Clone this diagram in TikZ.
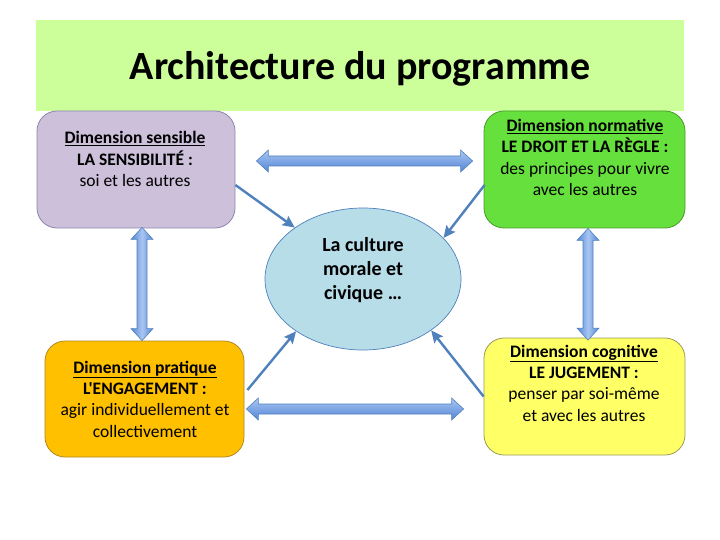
\documentclass[tikz,border=0pt]{standalone}
\usepackage{fontspec}
\setmainfont{Carlito}[Ligatures=TeXOff]
\usetikzlibrary{calc,arrows.meta,shapes.geometric}
\definecolor{titlegreen}{HTML}{CCFF99}
\definecolor{lav}{HTML}{CCC0DA}
\definecolor{lavborder}{HTML}{8C86AF}
\definecolor{normgreen}{HTML}{66E03C}
\definecolor{normborder}{HTML}{4A9A2E}
\definecolor{orangefill}{HTML}{FFC000}
\definecolor{orangeborder}{HTML}{B08A20}
\definecolor{yellowfill}{HTML}{FFFF66}
\definecolor{yellowborder}{HTML}{9A9A5A}
\definecolor{ellfill}{HTML}{B7DDE8}
\definecolor{blueline}{HTML}{4F81BD}
\definecolor{arrlight}{HTML}{A9C6F2}
\definecolor{arrdark}{HTML}{5486D6}
\newcommand{\dblH}[2]{\path[blockarrow,top color=arrlight,bottom color=arrdark]
  let \p1=(#1), \p2=(#2) in (\x1,\y1) -- (\x1+12pt,\y1+11pt) -- (\x1+12pt,\y1+5pt)
  -- (\x2-12pt,\y1+5pt) -- (\x2-12pt,\y1+11pt) -- (\x2,\y1) -- (\x2-12pt,\y1-11pt)
  -- (\x2-12pt,\y1-5pt) -- (\x1+12pt,\y1-5pt) -- (\x1+12pt,\y1-11pt) -- cycle;}
\newcommand{\dblV}[2]{\path[blockarrow,left color=arrdark,right color=arrdark,middle color=arrlight]
  let \p1=(#1), \p2=(#2) in (\x1,\y1) -- (\x1+11pt,\y1-12pt) -- (\x1+5pt,\y1-12pt)
  -- (\x1+5pt,\y2+12pt) -- (\x1+11pt,\y2+12pt) -- (\x1,\y2) -- (\x1-11pt,\y2+12pt)
  -- (\x1-5pt,\y2+12pt) -- (\x1-5pt,\y1-12pt) -- (\x1-11pt,\y1-12pt) -- cycle;}
\begin{document}
\begin{tikzpicture}[x=1pt,y=-1pt,
  dimbox/.style={draw, line width=0.8pt, rounded corners=20pt, inner sep=0pt},
  boxtext/.style={align=center, font=\fontsize{17.5}{21.3}\selectfont, anchor=base, inner sep=0pt},
  blockarrow/.style={draw=blueline, line width=0.6pt},
  linkarrow/.style={draw=blueline, line width=2.4pt, -{Stealth[length=12pt,width=11pt,inset=2pt]}}]
\useasboundingbox (0,0) rectangle (720,540);
\fill[white] (0,0) rectangle (720,540);
% title band
\node[fill=titlegreen, minimum width=648pt, minimum height=91pt, inner sep=0pt] (band) at (360,65.5) {};
\node[anchor=base, font=\fontsize{40}{44}\selectfont\bfseries, inner sep=0pt] (title) at (360,80) {Architecture du programme};
% boxes
\node[dimbox, fill=lav, draw=lavborder, minimum width=198pt, minimum height=117pt] (sens) at (136,169.5) {};
\node[dimbox, fill=normgreen, draw=normborder, minimum width=201pt, minimum height=117pt] (norm) at (584.5,169.5) {};
\node[dimbox, fill=orangefill, draw=orangeborder, minimum width=199pt, minimum height=116pt] (prat) at (144.5,399) {};
\node[dimbox, fill=yellowfill, draw=yellowborder, minimum width=201pt, minimum height=117pt] (cogn) at (584.5,396.5) {};
\node[ellipse, fill=ellfill, draw=blueline, line width=0.7pt, minimum width=196pt, minimum height=142pt, inner sep=0pt] (ell) at (363,279) {};
% texts (anchor=base is the baseline of the last line)
\node[boxtext] (senst) at (135,186.5) {\underline{\textbf{Dimension sensible}}\\ \textbf{LA SENSIBILITÉ :}\\ soi et les autres};
\node[boxtext] (normt) at (585,195.5) {\underline{\textbf{Dimension normative}}\\ \textbf{LE DROIT ET LA RÈGLE :}\\ des principes pour vivre\\ avec les autres};
\node[boxtext] (pratt) at (145,437) {\underline{\textbf{Dimension pratique}}\\ \textbf{L'ENGAGEMENT :}\\ agir individuellement et\\ collectivement};
\node[boxtext] (cognt) at (584,421) {\underline{\textbf{Dimension cognitive}}\\ \textbf{LE JUGEMENT :}\\ penser par soi-même\\ et avec les autres};
\node[align=center, anchor=base, inner sep=0pt, font=\fontsize{20}{24}\selectfont\bfseries] (ellt) at (363,299.3) {La culture\\ morale et\\ civique …};
% block arrows
\coordinate (h1a) at ($(sens.east)+(21,-8.5)$);
\coordinate (h1b) at ($(norm.west)+(-11,-8.5)$);
\coordinate (h2a) at ($(prat.east)+(2,10)$);
\coordinate (h2b) at ($(cogn.west)+(-20,12.5)$);
\coordinate (v1a) at ($(sens.south)+(6,-1)$);
\coordinate (v1b) at ($(prat.north)+(-2.5,0)$);
\coordinate (v2a) at ($(norm.south)+(3.5,0)$);
\coordinate (v2b) at ($(cogn.north)+(3.5,2.5)$);
\dblH{h1a}{h1b}
\dblH{h2a}{h2b}
\dblV{v1a}{v1b}
\dblV{v2a}{v2b}
% link arrows
\draw[linkarrow] ($(sens.east)+(0,15.5)$) -- (ell.143);
\draw[linkarrow] ($(norm.west)+(1,15.5)$) -- (ell.27);
\draw[linkarrow] ($(prat.east)+(3,-9)$) -- (ell.218);
\draw[linkarrow] (cogn.west) -- (ell.323);
\end{tikzpicture}
\end{document}
